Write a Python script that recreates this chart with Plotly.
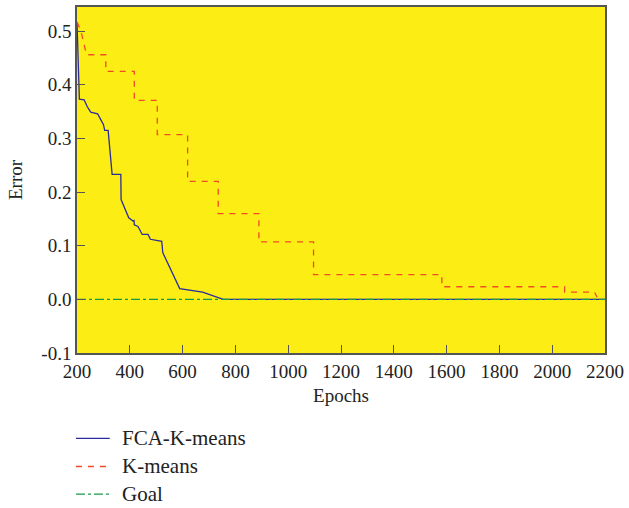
import plotly.graph_objects as go

# FCA-K-means (blue, solid)
fca_x = [200, 209, 227, 239, 252, 278, 289, 300, 305, 318, 324, 333, 366, 367, 396, 412, 416, 417, 431, 447, 469, 478, 521, 525, 589, 676, 754, 1200, 1600, 2200]
fca_y = [0.517, 0.373, 0.372, 0.359, 0.349, 0.346, 0.336, 0.326, 0.315, 0.315, 0.282, 0.233, 0.233, 0.186, 0.152, 0.146, 0.147, 0.139, 0.136, 0.121, 0.121, 0.112, 0.108, 0.087, 0.020, 0.0136, 0.0, 0.0, 0.0, 0.0]

# K-means (red, dashed, stepwise)
km_x = [200, 215, 236, 309, 309, 417, 417, 504, 504, 619, 619, 735, 735, 889, 889, 1096, 1096, 1582, 1582, 2047, 2047, 2160, 2170]
km_y = [0.517, 0.500, 0.456, 0.456, 0.425, 0.425, 0.371, 0.371, 0.307, 0.307, 0.220, 0.220, 0.160, 0.160, 0.107, 0.107, 0.046, 0.046, 0.0235, 0.0235, 0.0136, 0.0136, 0.004]

# Goal (green, dash-dot)
goal_x = [200, 2200]
goal_y = [0.0, 0.0]

x_ticks = [200, 400, 600, 800, 1000, 1200, 1400, 1600, 1800, 2000, 2200]
y_ticks = [-0.1, 0.0, 0.1, 0.2, 0.3, 0.4, 0.5]
y_tick_text = ["-0.1", "0.0", "0.1", "0.2", "0.3", "0.4", "0.5"]

series_names = ["FCA-K-means", "K-means", "Goal"]
series_colors = ["#2b2b9c", "#f24a26", "#17994a"]
series_dash = ["solid", "6px,6px", "dashdot"]

font = "Liberation Serif, DejaVu Serif, serif"

fig = go.Figure()
for xs, ys, name, color, dash in zip([fca_x, km_x, goal_x], [fca_y, km_y, goal_y],
                                     series_names, series_colors, series_dash):
    fig.add_trace(go.Scatter(x=xs, y=ys, mode="lines", name=name, showlegend=False,
                             line=dict(color=color, width=1.3, dash=dash)))

# legend drawn below the plot (paper coordinates)
legend_rows_y = [-0.247, -0.328, -0.408]
for ly, name, color, dash in zip(legend_rows_y, series_names, series_colors, series_dash):
    fig.add_shape(type="line", xref="paper", yref="paper", x0=-0.002, x1=0.062, y0=ly, y1=ly,
                  line=dict(color=color, width=1.3, dash=dash))
    fig.add_annotation(xref="paper", yref="paper", x=0.081, y=ly, text=name, showarrow=False,
                       xanchor="left", yanchor="middle", font=dict(size=21, family=font, color="#222222"))

fig.update_layout(
    width=629, height=508,
    margin=dict(l=77, r=21, t=5, b=155),
    paper_bgcolor="white",
    plot_bgcolor="#fcee14",
    font=dict(family=font, size=19, color="#222222"),
    showlegend=False,
)
fig.update_xaxes(
    range=[200, 2200], tickvals=x_ticks, showgrid=False, zeroline=False,
    showline=True, linecolor="#555555", linewidth=1.5, mirror=True,
    ticks="inside", ticklen=8, tickcolor="#555555", tickwidth=1.3,
    title=dict(text="Epochs", font=dict(size=19, family=font), standoff=8),
    tickfont=dict(size=19, family=font),
)
fig.update_yaxes(
    range=[-0.1, 0.545], tickvals=y_ticks, ticktext=y_tick_text, showgrid=False, zeroline=False,
    showline=True, linecolor="#555555", linewidth=1.5, mirror=True,
    ticks="inside", ticklen=8, tickcolor="#555555", tickwidth=1.3,
    title=dict(text="Error", font=dict(size=19, family=font), standoff=14),
    tickfont=dict(size=19, family=font),
)

fig.write_html("out.html", config={"displayModeBar": False},
               post_script="document.body.style.margin='0px';")
